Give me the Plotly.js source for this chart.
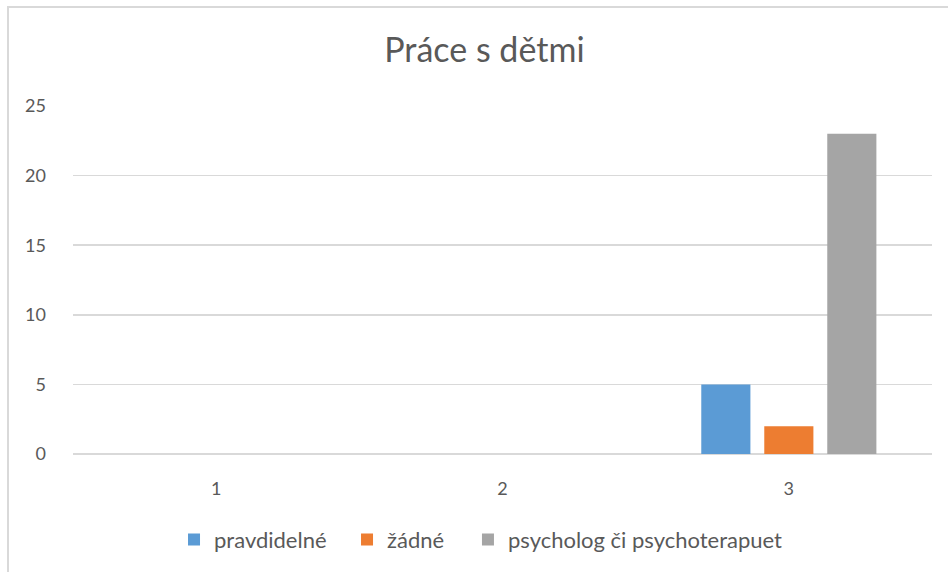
<!DOCTYPE html>
<html>
<head>
<meta charset="utf-8">
<script src="https://cdn.plot.ly/plotly-3.0.1.min.js"></script>
<style>
  html, body { margin: 0; padding: 0; background: #ffffff; }
  #wrap { position: relative; width: 948px; height: 572px; overflow: hidden; }
  #chart { position: absolute; left: 0; top: 0; width: 948px; height: 572px; }
  #frame { position: absolute; left: 7px; top: 6px; width: 960px; height: 600px;
           border-left: 2px solid #d9d9d9; border-top: 2px solid #d9d9d9; pointer-events: none; }
</style>
</head>
<body>
<div id="wrap">
  <div id="chart"></div>
  <div id="frame"></div>
</div>
<script>
const categories = ['1', '2', '3'];
const seriesNames = ['pravdidelné', 'žádné', 'psycholog či psychoterapuet'];
const pravdidelne = [null, null, 5];
const zadne = [null, null, 2];
const psycholog = [null, null, 23];
const yTicks = [0, 5, 10, 15, 20, 25];
const colors = ['#5b9bd5', '#ed7d31', '#a5a5a5'];

const FONT = 'Lato, "Open Sans", "Liberation Sans", sans-serif';
const values = [pravdidelne, zadne, psycholog];
const legendIds = ['legend', 'legend2', 'legend3'];
const legendX = [0.1176, 0.319, 0.4598];

const traces = values.map((v, i) => ({
  type: 'bar',
  name: seriesNames[i],
  x: categories,
  y: v,
  legend: legendIds[i],
  marker: { color: colors[i], line: { width: 0 } },
  hoverinfo: 'x+y+name'
}));

const layout = {
  width: 948,
  height: 572,
  paper_bgcolor: '#ffffff',
  plot_bgcolor: '#ffffff',
  margin: { l: 73, r: 16, t: 106, b: 117 },
  title: {
    text: 'Práce s dětmi',
    font: { family: FONT, size: 34, color: '#595959' },
    xref: 'container', x: 0.511, xanchor: 'center',
    yref: 'container', y: 0.912, yanchor: 'middle'
  },
  barmode: 'group',
  bargap: 0.34,
  bargroupgap: 0.22,
  showlegend: true,
  xaxis: {
    type: 'category',
    showgrid: false,
    showline: false,
    zeroline: false,
    ticks: '',
    ticklabelstandoff: 22,
    tickfont: { family: FONT, size: 18, color: '#595959' }
  },
  yaxis: {
    range: [0, 25],
    tickvals: yTicks,
    ticktext: yTicks.map(String),
    showgrid: true,
    gridcolor: '#d9d9d9',
    gridwidth: 1.5,
    zeroline: true,
    zerolinecolor: '#d9d9d9',
    zerolinewidth: 1.5,
    showline: false,
    ticks: '',
    ticklabelstandoff: 26,
    tickfont: { family: FONT, size: 18, color: '#595959' }
  }
};

legendIds.forEach((id, i) => {
  layout[id] = {
    orientation: 'h',
    x: legendX[i], xanchor: 'left',
    y: -0.243, yanchor: 'middle',
    font: { family: FONT, size: 22, color: '#595959' },
    itemsizing: 'constant',
    itemwidth: 30,
    bgcolor: 'rgba(0,0,0,0)',
    borderwidth: 0
  };
});

Plotly.newPlot('chart', traces, layout, { displayModeBar: false, staticPlot: true });
</script>
</body>
</html>
